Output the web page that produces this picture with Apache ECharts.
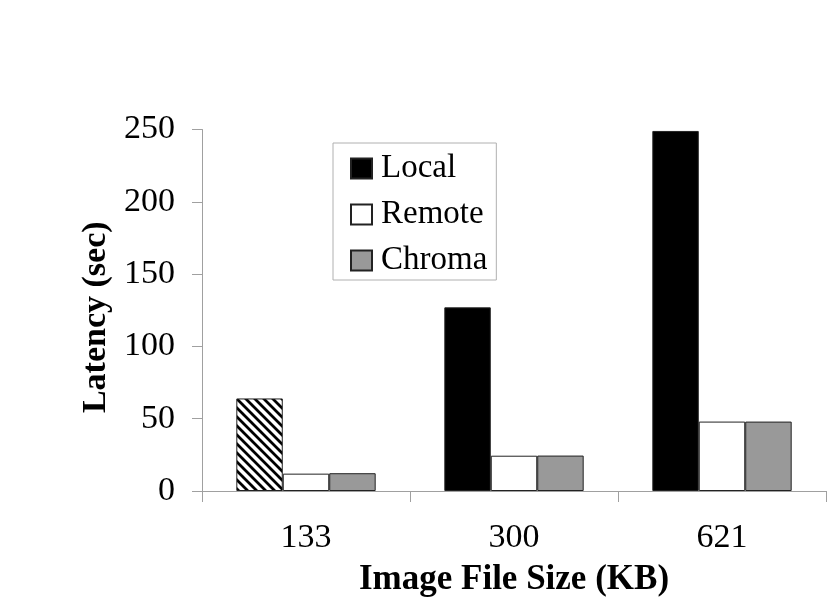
<!DOCTYPE html>
<html>
<head>
<meta charset="utf-8">
<script src="https://cdn.jsdelivr.net/npm/echarts@6/dist/echarts.min.js"></script>
<style>
html, body { margin: 0; padding: 0; background: #fff; }
#chart { width: 829px; height: 602px; }
</style>
</head>
<body>
<div id="chart"></div>
<script>
var categories = ['133', '300', '621'];
var localVals = [64, 127, 249];
var remoteVals = [12, 24.4, 48];
var chromaVals = [12.3, 24.5, 48];

// hatched fill for the first Local bar
function hatch() {
    var s = 9;
    var c = document.createElement('canvas');
    c.width = s; c.height = s;
    var g = c.getContext('2d');
    g.fillStyle = '#fff';
    g.fillRect(0, 0, s, s);
    g.strokeStyle = '#000';
    g.lineWidth = 2.8;
    g.beginPath();
    g.moveTo(-s, 0); g.lineTo(s, 2 * s);
    g.moveTo(0, 0); g.lineTo(s, s);
    g.moveTo(0, -s); g.lineTo(2 * s, s);
    g.stroke();
    return c;
}

var localData = localVals.map(function (v, i) {
    if (i === 0) {
        return { value: v, itemStyle: { color: { image: hatch(), repeat: 'repeat' } } };
    }
    return v;
});

var font = 'Liberation Serif';
var chart = echarts.init(document.getElementById('chart'));
chart.setOption({
    animation: false,
    textStyle: { fontFamily: font },
    grid: { left: 202, right: 3, top: 129.5, bottom: 108 },
    legend: {
        orient: 'vertical',
        left: 333,
        top: 143,
        itemWidth: 21,
        itemHeight: 20,
        itemGap: 13,
        padding: [9, 9, 3, 17],
        borderColor: '#b0b0b0',
        borderWidth: 1,
        icon: 'rect',
        textStyle: { fontSize: 33, fontFamily: font, color: '#000', padding: [0, 0, 0, 4] },
        data: ['Local', 'Remote', 'Chroma']
    },
    xAxis: {
        type: 'category',
        data: categories,
        name: 'Image File Size (KB)',
        nameLocation: 'middle',
        nameGap: 71,
        nameTextStyle: { fontSize: 35, fontWeight: 'bold', fontFamily: font, color: '#000' },
        axisLine: { lineStyle: { color: '#a0a0a0' } },
        axisTick: { show: true, length: 11, lineStyle: { color: '#a0a0a0' } },
        axisLabel: { fontSize: 34, color: '#000', margin: 30, fontFamily: font }
    },
    yAxis: {
        type: 'value',
        min: 0,
        max: 250,
        interval: 50,
        name: 'Latency (sec)',
        nameLocation: 'middle',
        nameGap: 89,
        nameTextStyle: { fontSize: 34, fontWeight: 'bold', fontFamily: font, color: '#000', padding: [0, 14, 0, 0] },
        splitLine: { show: false },
        axisLine: { show: true, lineStyle: { color: '#a0a0a0' } },
        axisTick: { show: true, length: 10, lineStyle: { color: '#a0a0a0' } },
        axisLabel: { fontSize: 34, color: '#000', margin: 27, fontFamily: font }
    },
    series: [
        {
            name: 'Local', type: 'bar', data: localData,
            barGap: '0%', barCategoryGap: '33%',
            itemStyle: { color: '#000', borderColor: '#222', borderWidth: 1 }
        },
        {
            name: 'Remote', type: 'bar', data: remoteVals,
            itemStyle: { color: '#fff', borderColor: '#222', borderWidth: 1 }
        },
        {
            name: 'Chroma', type: 'bar', data: chromaVals,
            itemStyle: { color: '#999', borderColor: '#222', borderWidth: 1 }
        }
    ]
});
</script>
</body>
</html>
